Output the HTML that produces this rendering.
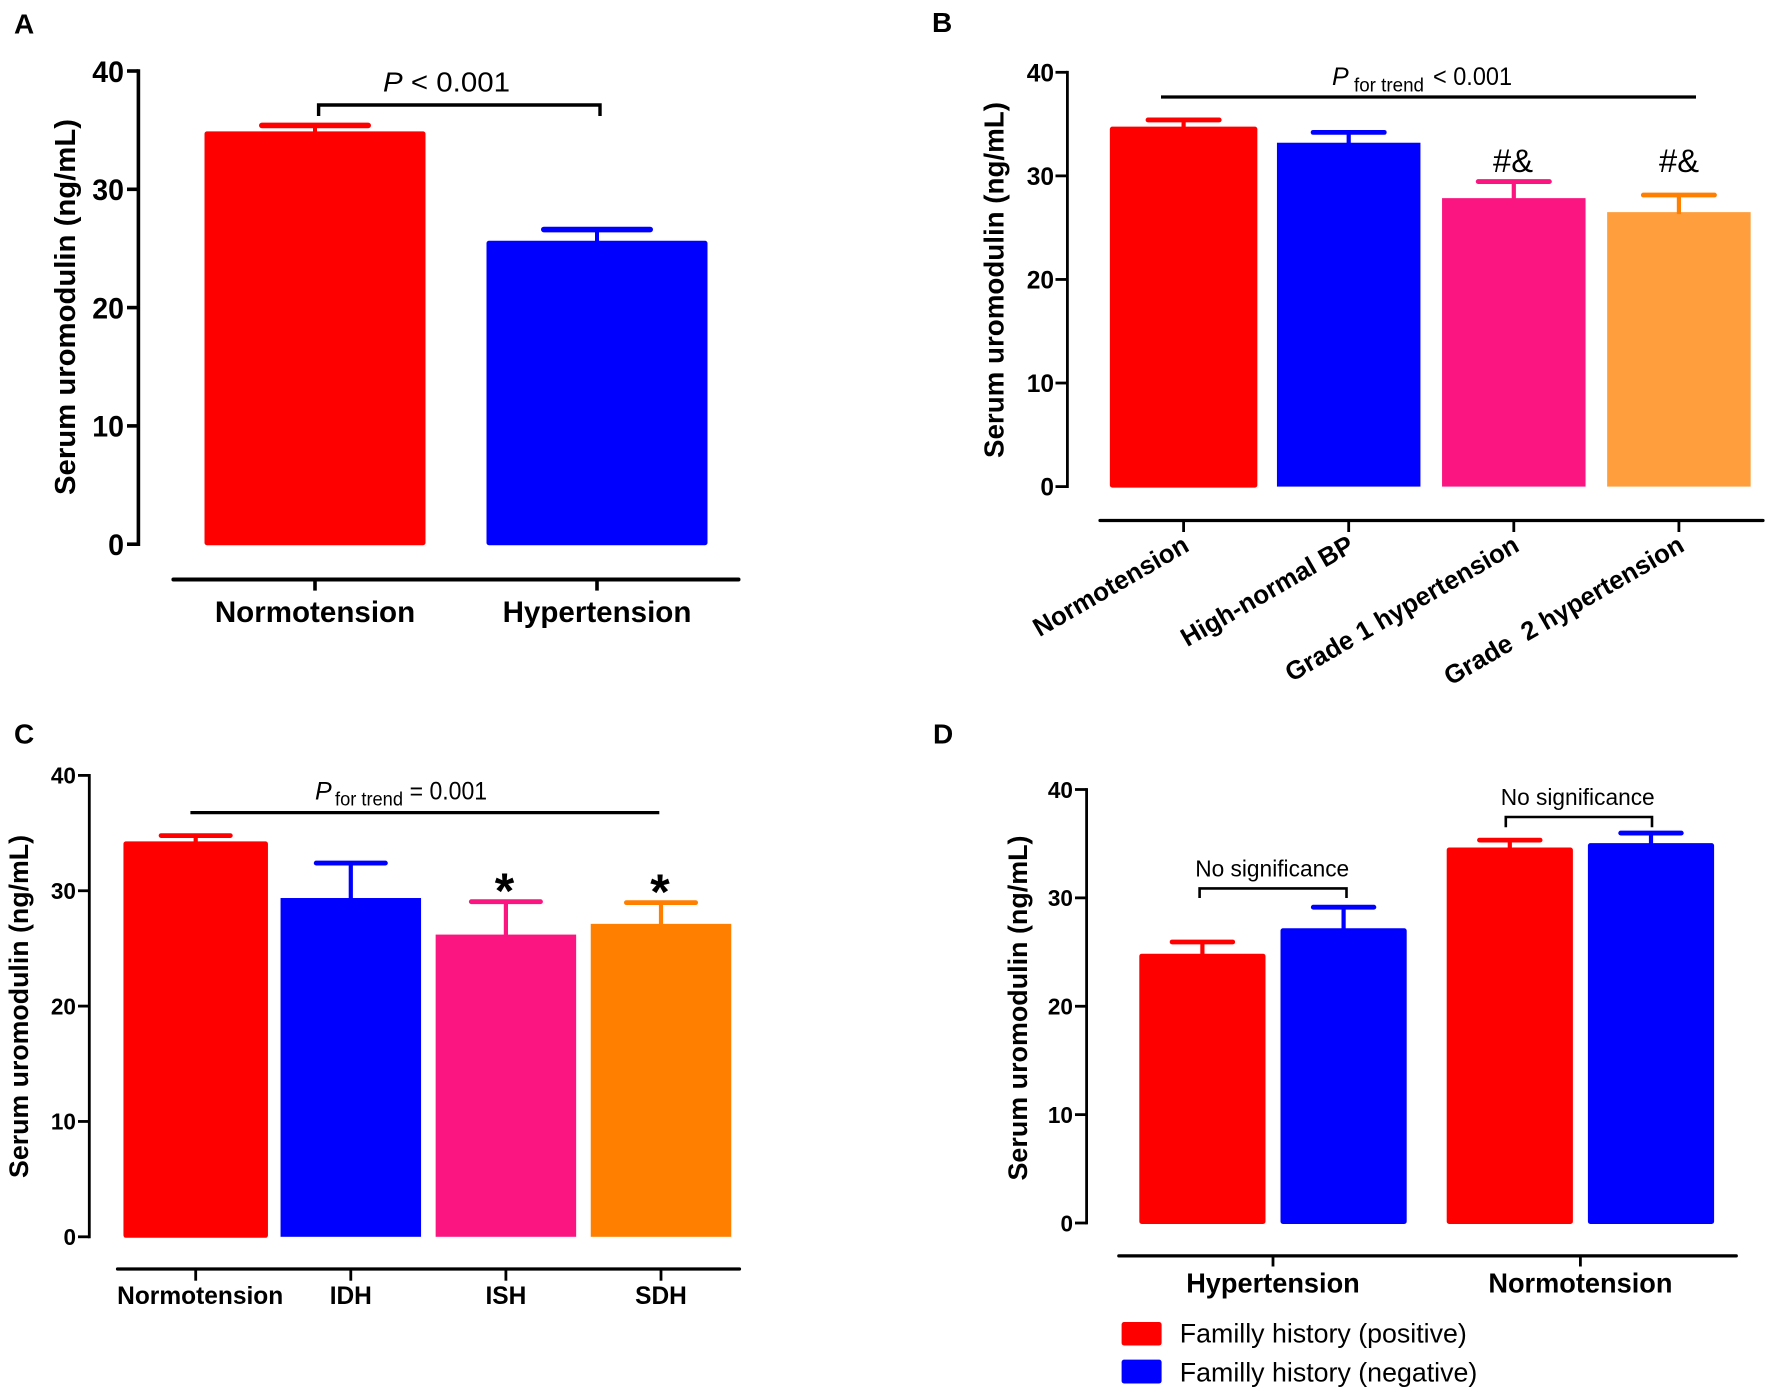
<!DOCTYPE html>
<html lang="en">
<head>
<meta charset="utf-8">
<title>Serum uromodulin panels</title>
<style>
html,body{margin:0;padding:0;background:#fff;width:1772px;height:1395px;overflow:hidden}
svg{display:block}
text{font-family:"Liberation Sans",Arial,sans-serif;fill:#000;white-space:pre}
.b{font-weight:700}
</style>
</head>
<body>
<svg id="figure" xmlns="http://www.w3.org/2000/svg" width="1772" height="1395" viewBox="0 0 1772 1395">
  <rect x="0" y="0" width="1772" height="1395" fill="#fff"/>

  <g id="panel-a">
    <text class="b" x="14" y="33.5" font-size="28">A</text>
    <text class="b" font-size="29" transform="translate(75,495) rotate(-90)" textLength="376" lengthAdjust="spacingAndGlyphs">Serum uromodulin (ng/mL)</text>
    <text x="383" y="91.5" font-size="28" textLength="127" lengthAdjust="spacingAndGlyphs"><tspan font-style="italic">P</tspan> &lt; 0.001</text>
    <path d="M318.6 116V105H600V116" fill="none" stroke="#000" stroke-width="3.4"/>
  </g>

  <g id="panel-b">
    <text class="b" x="932" y="32" font-size="28">B</text>
    <text class="b" font-size="27.6" transform="translate(1003.5,458) rotate(-90)" textLength="356" lengthAdjust="spacingAndGlyphs">Serum uromodulin (ng/mL)</text>
    <text x="1332" y="85" font-size="25" font-style="italic">P</text>
    <text x="1354" y="91.5" font-size="19" textLength="70" lengthAdjust="spacingAndGlyphs">for trend</text>
    <text x="1433" y="85" font-size="25" textLength="79" lengthAdjust="spacingAndGlyphs">&lt; 0.001</text>
    <line x1="1161" x2="1696" y1="97" y2="97" stroke="#000" stroke-width="3.2"/>
    <text x="1493" y="171.8" font-size="32" textLength="40" lengthAdjust="spacingAndGlyphs">#&amp;</text>
    <text x="1659" y="171.8" font-size="32" textLength="40" lengthAdjust="spacingAndGlyphs">#&amp;</text>
  </g>

  <g id="panel-c">
    <text class="b" x="14" y="743.4" font-size="28">C</text>
    <text class="b" font-size="26.5" transform="translate(28,1178) rotate(-90)" textLength="343" lengthAdjust="spacingAndGlyphs">Serum uromodulin (ng/mL)</text>
    <text x="315" y="799.7" font-size="25" font-style="italic">P</text>
    <text x="335" y="805.5" font-size="19" textLength="68" lengthAdjust="spacingAndGlyphs">for trend</text>
    <text x="409.6" y="799.7" font-size="25" textLength="77.5" lengthAdjust="spacingAndGlyphs">= 0.001</text>
    <line x1="190.4" x2="659.3" y1="812.6" y2="812.6" stroke="#000" stroke-width="3.2"/>
    <text class="b" x="504.5" y="908" font-size="50" text-anchor="middle">*</text>
    <text class="b" x="660" y="909" font-size="50" text-anchor="middle">*</text>
  </g>

  <g id="panel-d">
    <text class="b" x="933" y="743.4" font-size="28">D</text>
    <text class="b" font-size="26.5" transform="translate(1027,1180.5) rotate(-90)" textLength="345" lengthAdjust="spacingAndGlyphs">Serum uromodulin (ng/mL)</text>
    <text x="1195.2" y="876.6" font-size="23" textLength="154" lengthAdjust="spacingAndGlyphs">No significance</text>
    <path d="M1199.6 898V888.4H1346.5V898" fill="none" stroke="#000" stroke-width="2.6"/>
    <text x="1500.7" y="805" font-size="23" textLength="154" lengthAdjust="spacingAndGlyphs">No significance</text>
    <path d="M1505.8 827.2V817H1652V827.2" fill="none" stroke="#000" stroke-width="2.6"/>
    <rect x="1121.6" y="1322" width="40" height="23.5" rx="2.5" fill="#ff0000"/>
    <text x="1179.8" y="1342.7" font-size="27" textLength="287" lengthAdjust="spacingAndGlyphs">Familly history (positive)</text>
    <rect x="1121.6" y="1359.6" width="40" height="23.9" rx="2.5" fill="#0000ff"/>
    <text x="1179.8" y="1381.7" font-size="27" textLength="297.5" lengthAdjust="spacingAndGlyphs">Familly history (negative)</text>
  </g>
</svg>

<script>
const yTickValues = [0, 10, 20, 30, 40];

const panelACategories = ['Normotension', 'Hypertension'];
const panelAMeans = [34.9, 25.65];
const panelAUpper = [35.4, 26.6];

const panelBCategories = ['Normotension', 'High-normal BP', 'Grade 1 hypertension', 'Grade  2 hypertension'];
const panelBMeans = [34.75, 33.2, 27.85, 26.5];
const panelBUpper = [35.4, 34.2, 29.45, 28.15];

const panelCCategories = ['Normotension', 'IDH', 'ISH', 'SDH'];
const panelCMeans = [34.28, 29.37, 26.2, 27.13];
const panelCUpper = [34.78, 32.4, 29.05, 28.97];

const panelDGroups = ['Hypertension', 'Normotension'];
const panelDPositiveMeans = [24.85, 34.65];
const panelDPositiveUpper = [25.93, 35.33];
const panelDNegativeMeans = [27.2, 35.05];
const panelDNegativeUpper = [29.14, 35.98];

const NS = 'http://www.w3.org/2000/svg';
const RED = '#ff0000', BLUE = '#0000ff', PINK = '#fa1580', ORANGE = '#ff7f00', LIGHT_ORANGE = '#ff9e3d';

const layoutA = {group: 'panel-a', axisX: 138.4, y0: 544.2, yTop: 71, tickLeft: 127, axisWidth: 3.6, tickFont: 30, tickScale: 0.95, tickGap: 3,
  xAxisY: 579.5, xAxisLeft: 173.4, xAxisRight: 738.5, xTickEnd: 590.6, labelY: 622.2, labelFont: 30, labelScale: 0.985, labelShift: 0,
  firstCenter: 315, step: 282, barWidth: 221, firstExtra: 0, capHalf: 56, capWidth: 5.6, stemWidth: 4, squareRest: false,
  fills: [RED, BLUE], caps: [RED, BLUE]};
const layoutB = {group: 'panel-b', axisX: 1067.4, y0: 486.6, yTop: 72.3, tickLeft: 1055.5, axisWidth: 2.8, tickFont: 25, tickScale: 0.98, tickGap: 1.5,
  xAxisY: 520.5, xAxisLeft: 1100, xAxisRight: 1763, xTickEnd: 532, labelFont: 26, labelScale: 0.99, labelAngle: -30, labelDX: 7, labelY: 550,
  firstCenter: 1183.6, step: 165.1, barWidth: 143.5, firstExtra: 4, capHalf: 38, capWidth: 4.8, stemWidth: 4.2, squareRest: true,
  fills: [RED, BLUE, PINK, LIGHT_ORANGE], caps: [RED, BLUE, PINK, ORANGE]};
const layoutC = {group: 'panel-c', axisX: 89.3, y0: 1236.8, yTop: 775.4, tickLeft: 78, axisWidth: 2.8, tickFont: 23, tickScale: 0.98, tickGap: 2,
  xAxisY: 1269, xAxisLeft: 117.5, xAxisRight: 739.5, xTickEnd: 1280.7, labelY: 1304, labelFont: 25, labelScale: 0.98, firstLabelShift: 4.5, labelShift: 0,
  firstCenter: 195.7, step: 155.1, barWidth: 140.5, firstExtra: 4, capHalf: 37, capWidth: 4.8, stemWidth: 4.2, squareRest: true,
  fills: [RED, BLUE, PINK, ORANGE], caps: [RED, BLUE, PINK, ORANGE]};
const layoutD = {group: 'panel-d', axisX: 1086.6, y0: 1223, yTop: 789.5, tickLeft: 1075, axisWidth: 2.8, tickFont: 23, tickScale: 0.98, tickGap: 2,
  xAxisY: 1255.9, xAxisLeft: 1118.8, xAxisRight: 1736.3, xTickEnd: 1266.5, labelY: 1292.6, labelFont: 28, labelScale: 0.97, labelShift: 0,
  firstCenter: 1273, step: 307.4, barWidth: 126.2, offset: 70.6, firstExtra: 0, capHalf: 32.7, capWidth: 4.8, stemWidth: 4.2, squareRest: false};

function make(tag, attrs, parent) {
  const el = document.createElementNS(NS, tag);
  Object.keys(attrs).forEach(function (k) { el.setAttribute(k, attrs[k]); });
  parent.appendChild(el);
  return el;
}
function yScale(L, v) {
  const top = yTickValues[yTickValues.length - 1];
  return L.y0 - (v / top) * (L.y0 - L.yTop);
}
function xBand(L, i) {
  return L.firstCenter + i * L.step;
}
function fitText(el, scale) {
  const natural = el.getComputedTextLength();
  el.setAttribute('textLength', (natural * scale).toFixed(1));
  el.setAttribute('lengthAdjust', 'spacingAndGlyphs');
}

function drawYAxis(L) {
  const g = document.getElementById(L.group);
  const axis = make('line', {x1: L.axisX, x2: L.axisX, y1: yScale(L, 40) - L.axisWidth / 2, y2: yScale(L, 0) + L.axisWidth / 2, stroke: '#000', 'stroke-width': L.axisWidth}, g);
  
  
  yTickValues.forEach(function (v) {
    const y = yScale(L, v);
    const tick = make('line', {x1: L.tickLeft, x2: L.axisX, y1: y, y2: y, stroke: '#000', 'stroke-width': L.axisWidth}, g);
    
    
    const label = make('text', {x: L.tickLeft - L.tickGap, y: y + L.tickFont * 0.36, 'font-size': L.tickFont, 'font-weight': 700, 'text-anchor': 'end'}, g);
    
    
    label.textContent = String(v);
    fitText(label, L.tickScale);
  });
}

function drawXAxis(L, categories) {
  const g = document.getElementById(L.group);
  const axis = make('line', {x1: L.xAxisLeft, x2: L.xAxisRight, y1: L.xAxisY, y2: L.xAxisY, stroke: '#000', 'stroke-width': L.axisWidth + 0.4, 'stroke-linecap': 'round'}, g);
  
  
  categories.forEach(function (name, i) {
    const x = xBand(L, i);
    const tick = make('line', {x1: x, x2: x, y1: L.xAxisY, y2: L.xTickEnd, stroke: '#000', 'stroke-width': L.axisWidth}, g);
    
    
    const label = make('text', {'font-size': L.labelFont, 'font-weight': 700}, g);
    
    
    label.textContent = name;
    if (L.labelAngle) {
      label.setAttribute('text-anchor', 'end');
      label.setAttribute('transform', 'translate(' + (x + L.labelDX) + ',' + L.labelY + ') rotate(' + L.labelAngle + ')');
      fitText(label, L.labelScale);
    } else {
      const shift = (i === 0 && L.firstLabelShift) ? L.firstLabelShift : L.labelShift;
      label.setAttribute('text-anchor', 'middle');
      label.setAttribute('x', x + shift);
      label.setAttribute('y', L.labelY);
      fitText(label, L.labelScale);
    }
  });
}

function drawBar(L, cx, width, mean, upper, fill, capColor, square) {
  const g = document.getElementById(L.group);
  const yMean = yScale(L, mean), yUpper = yScale(L, upper), y0 = yScale(L, 0);
  const bar = make('rect', {x: cx - width / 2, y: yMean, width: width, height: y0 - yMean + (square ? 0 : 1), rx: square ? 0 : 2.5, fill: fill}, g);
  
  
  const stem = make('line', {x1: cx, x2: cx, y1: yUpper, y2: yMean + 2, stroke: capColor, 'stroke-width': L.stemWidth}, g);
  
  
  const cap = make('line', {x1: cx - L.capHalf + L.capWidth / 2, x2: cx + L.capHalf - L.capWidth / 2, y1: yUpper, y2: yUpper, stroke: capColor, 'stroke-width': L.capWidth, 'stroke-linecap': 'round'}, g);
  
  
}

function drawSimplePanel(L, categories, means, upper) {
  drawYAxis(L);
  drawXAxis(L, categories);
  categories.forEach(function (name, i) {
    const w = L.barWidth + (i === 0 ? L.firstExtra : 0);
    drawBar(L, xBand(L, i), w, means[i], upper[i], L.fills[i], L.caps[i], L.squareRest && i > 0);
  });
}

function drawGroupedPanel(L, groups, posMeans, posUpper, negMeans, negUpper) {
  drawYAxis(L);
  drawXAxis(L, groups);
  groups.forEach(function (name, i) {
    const c = xBand(L, i);
    drawBar(L, c - L.offset, L.barWidth, posMeans[i], posUpper[i], RED, RED, false);
    drawBar(L, c + L.offset, L.barWidth, negMeans[i], negUpper[i], BLUE, BLUE, false);
  });
}

drawSimplePanel(layoutA, panelACategories, panelAMeans, panelAUpper);
drawSimplePanel(layoutB, panelBCategories, panelBMeans, panelBUpper);
drawSimplePanel(layoutC, panelCCategories, panelCMeans, panelCUpper);
drawGroupedPanel(layoutD, panelDGroups, panelDPositiveMeans, panelDPositiveUpper, panelDNegativeMeans, panelDNegativeUpper);
</script>
</body>
</html>
